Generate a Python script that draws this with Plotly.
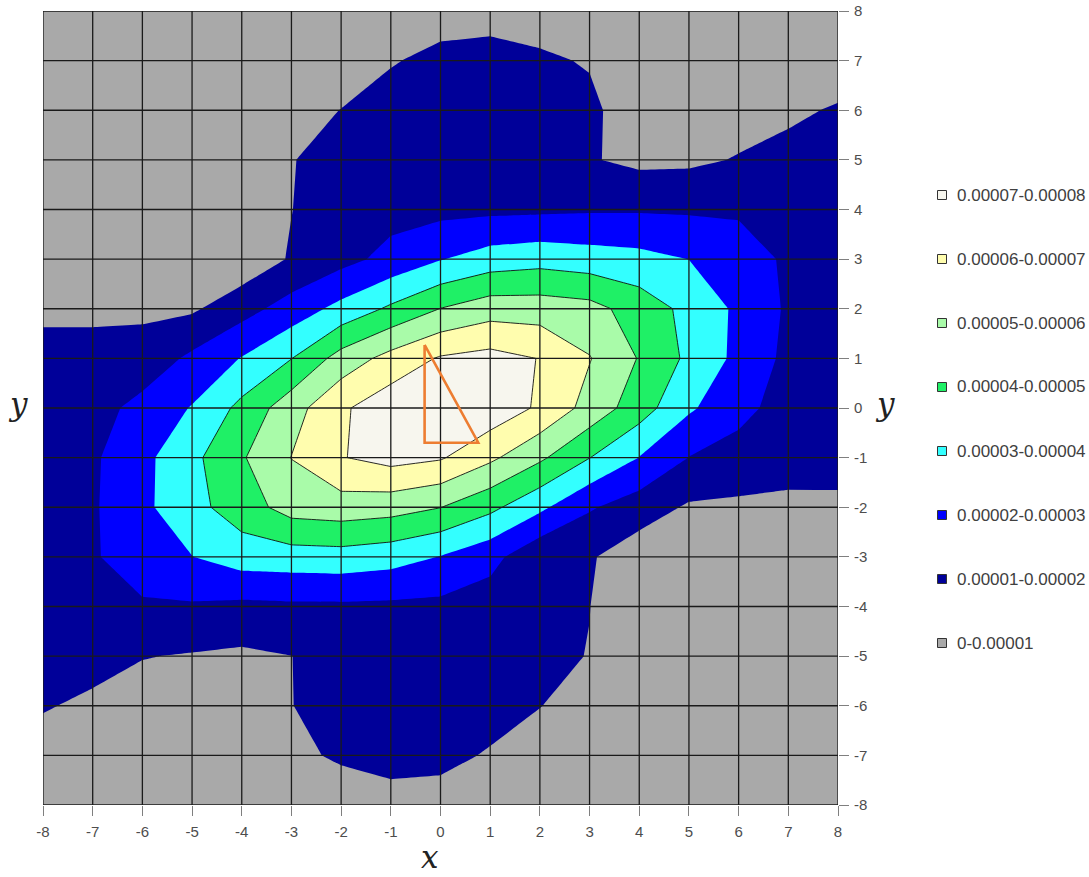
import plotly.graph_objects as go

# grid coordinates
x_vals = list(range(-8, 9))
y_vals = list(range(-8, 9))
x_ticktext = [str(v) for v in x_vals]
y_ticktext = [str(v) for v in y_vals]

# density values in units of 1e-5, rows from y=8 (top) down to y=-8, columns x=-8..8
density_rows_top_down = [
    [0.2, 0.2, 0.2, 0.2, 0.25, 0.3, 0.35, 0.5, 0.6, 0.69, 0.7, 0.6, 0.4, 0.35, 0.3, 0.3, 0.3],          # y=8
    [0.2, 0.2, 0.25, 0.25, 0.3, 0.35, 0.4, 0.93, 1.25, 1.3, 1.1, 0.95, 0.5, 0.45, 0.45, 0.5, 0.43],     # y=7
    [0.25, 0.25, 0.3, 0.3, 0.35, 0.6, 1.02, 1.4, 1.45, 1.5, 1.35, 1.15, 0.6, 0.55, 0.6, 0.82, 1.1],     # y=6
    [0.3, 0.3, 0.3, 0.35, 0.4, 0.95, 1.45, 1.55, 1.6, 1.65, 1.5, 1.075, 0.775, 0.82, 1.06, 1.3, 1.5],   # y=5
    [0.3, 0.3, 0.35, 0.35, 0.4, 0.98, 1.6, 1.66, 1.72, 1.78, 1.82, 1.89, 1.9, 1.87, 1.88, 1.7, 1.55],   # y=4
    [0.5, 0.5, 0.5, 0.45, 0.3, 1.1, 1.68, 2.3, 2.95, 3.45, 3.64, 3.45, 3.3, 2.99, 2.43, 1.86, 1.6],     # y=3
    [0.79, 0.79, 0.83, 0.86, 1.62, 2.43, 3.3, 4.17, 5.02, 5.55, 5.52, 5.34, 4.55, 3.73, 2.81, 1.86, 1.6],  # y=2
    [1.35, 1.35, 1.37, 2.21, 3.05, 3.98, 5.4, 6.35, 7.1, 7.34, 6.97, 6.05, 4.94, 3.79, 2.75, 1.75, 1.55],  # y=1
    [1.45, 1.6, 2.32, 3.06, 4.27, 5.58, 6.85, 7.6, 7.7, 7.65, 6.85, 5.64, 4.47, 3.15, 2.29, 1.6, 1.5],     # y=0
    [1.65, 1.85, 2.73, 3.75, 4.9, 6.02, 6.95, 7.35, 7.1, 6.2, 5.18, 4.02, 2.98, 1.98, 1.63, 1.55, 1.45],   # y=-1
    [1.6, 1.88, 2.78, 3.68, 4.52, 5.41, 5.55, 5.4, 5.02, 4.25, 3.22, 2.1, 1.5, 0.88, 0.82, 0.7, 0.76],     # y=-2
    [1.6, 1.91, 2.45, 2.98, 3.48, 3.55, 3.6, 3.4, 2.96, 2.33, 1.2, 1.1, 0.43, 0.4, 0.4, 0.35, 0.35],      # y=-3
    [1.5, 1.7, 1.89, 1.89, 1.77, 1.83, 1.84, 1.8, 1.76, 1.5, 1.3, 1.01, 0.5, 0.35, 0.3, 0.3, 0.3],        # y=-4
    [1.4, 1.35, 1.035, 0.93, 0.82, 0.99, 1.4, 1.55, 1.6, 1.35, 1.15, 0.98, 0.4, 0.3, 0.25, 0.25, 0.25],   # y=-5
    [1.08, 0.81, 0.6, 0.55, 0.55, 0.99, 1.2, 1.45, 1.45, 1.3, 1.03, 0.5, 0.35, 0.25, 0.2, 0.2, 0.2],      # y=-6
    [0.55, 0.5, 0.45, 0.4, 0.45, 0.84, 1.1, 1.3, 1.2, 0.93, 0.43, 0.35, 0.3, 0.25, 0.2, 0.2, 0.2],        # y=-7
    [0.3, 0.3, 0.3, 0.3, 0.35, 0.45, 0.6, 0.675, 0.7, 0.5, 0.35, 0.3, 0.25, 0.2, 0.2, 0.2, 0.2],          # y=-8
]
density_e5 = density_rows_top_down[::-1]  # rows now ordered y=-8..8

# bands (lowest first)
band_labels = ["0-0.00001", "0.00001-0.00002", "0.00002-0.00003", "0.00003-0.00004",
               "0.00004-0.00005", "0.00005-0.00006", "0.00006-0.00007", "0.00007-0.00008"]
band_colors = ["#A9A9A9", "#000099", "#0000FF", "#33FFFF",
               "#1FF066", "#A9FBA9", "#FFFDAE", "#F7F6EE"]

# orange triangle
tri_x = [-0.32, -0.32, 0.76, -0.32]
tri_y = [1.27, -0.7, -0.7, 1.27]

# figure geometry (pixels)
W, H = 1089, 877
ML, MR, MT, MB = 43, 251, 11, 72
PW, PH = W - ML - MR, H - MT - MB


def px_to_paper_x(px):
    return (px - ML) / PW


def px_to_paper_y(py):
    return (H - MB - py) / PH


n = len(band_colors)
colorscale = []
for k, c in enumerate(band_colors):
    lo = max(0.0, (k - 0.5) / (n - 1))
    hi = min(1.0, (k + 0.5) / (n - 1))
    colorscale.append([lo, c])
    colorscale.append([hi, c])

fig = go.Figure()

fig.add_trace(go.Contour(
    x=x_vals, y=y_vals, z=density_e5,
    colorscale=colorscale, autocontour=False,
    contours=dict(start=1, end=7, size=1, coloring="fill", showlines=False),
    line=dict(width=0, smoothing=0),
    showscale=False, showlegend=False, hoverinfo="skip",
))

fig.add_trace(go.Contour(
    x=x_vals, y=y_vals, z=density_e5,
    autocontour=False,
    contours=dict(start=4, end=7, size=1, coloring="none"),
    line=dict(width=0.9, color="#111111", smoothing=0),
    showscale=False, showlegend=False, hoverinfo="skip",
))

# grid lines over the filled contours
gx, gy = [], []
for v in x_vals:
    gx += [v, v, None]
    gy += [y_vals[0], y_vals[-1], None]
for v in y_vals:
    gx += [x_vals[0], x_vals[-1], None]
    gy += [v, v, None]
fig.add_trace(go.Scatter(x=gx, y=gy, mode="lines", line=dict(color="#1a1a1a", width=1.3),
                         showlegend=False, hoverinfo="skip"))

fig.add_trace(go.Scatter(x=tri_x, y=tri_y, mode="lines",
                         line=dict(color="#ED7D31", width=2.6),
                         showlegend=False, hoverinfo="skip"))

# legend drawn at the right: highest band at the top
legend_top_py, legend_step_py = 195, 64
legend_square_cx, legend_text_px, sq = 942, 955, 9
shapes, annotations = [], []
for i, (lab, col) in enumerate(reversed(list(zip(band_labels, band_colors)))):
    cy = legend_top_py + i * legend_step_py
    shapes.append(dict(type="rect", xref="paper", yref="paper",
                       x0=px_to_paper_x(legend_square_cx - sq / 2), x1=px_to_paper_x(legend_square_cx + sq / 2),
                       y0=px_to_paper_y(cy + sq / 2), y1=px_to_paper_y(cy - sq / 2),
                       fillcolor=col, line=dict(color="#333333", width=1)))
    annotations.append(dict(text=lab, xref="paper", yref="paper",
                            x=px_to_paper_x(legend_text_px), y=px_to_paper_y(cy),
                            xanchor="left", yanchor="middle", showarrow=False,
                            font=dict(family="Liberation Sans, Arial, sans-serif", size=17, color="#404040")))

labfont = dict(family="DejaVu Serif, serif", size=31, color="#222222")
annotations += [
    dict(text="<i>y</i>", xref="paper", yref="paper", x=px_to_paper_x(18), y=px_to_paper_y(404),
         showarrow=False, font=labfont, xanchor="center", yanchor="middle"),
    dict(text="<i>y</i>", xref="paper", yref="paper", x=px_to_paper_x(885), y=px_to_paper_y(404),
         showarrow=False, font=labfont, xanchor="center", yanchor="middle"),
    dict(text="<i>x</i>", xref="paper", yref="paper", x=px_to_paper_x(430), y=px_to_paper_y(857),
         showarrow=False, font=labfont, xanchor="center", yanchor="middle"),
]

tickfont = dict(family="Liberation Sans, Arial, sans-serif", size=15, color="#4d4d4d")
fig.update_xaxes(range=[-8, 8], tickvals=x_vals, ticktext=x_ticktext, ticks="outside", ticklen=10,
                 tickcolor="#7f7f7f", showgrid=False, zeroline=False, showline=False,
                 tickfont=tickfont, ticklabelstandoff=3, automargin=False)
fig.update_yaxes(range=[-8, 8], tickvals=y_vals, ticktext=y_ticktext, side="right", ticks="outside",
                 ticklen=10, tickcolor="#7f7f7f", showgrid=False, zeroline=False, showline=False,
                 tickfont=tickfont, ticklabelstandoff=2, automargin=False)

fig.update_layout(
    width=W, height=H,
    margin=dict(l=ML, r=MR, t=MT, b=MB),
    paper_bgcolor="white", plot_bgcolor="white",
    showlegend=False,
    shapes=shapes,
    annotations=annotations,
)

fig.write_html("out.html")
